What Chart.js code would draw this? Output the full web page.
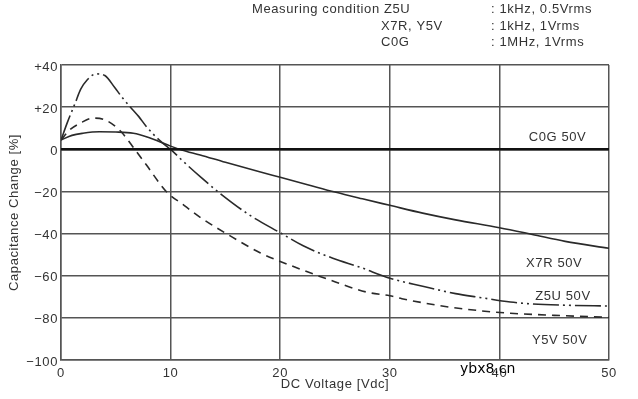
<!DOCTYPE html>
<html>
<head>
<meta charset="utf-8">
<script src="https://cdn.jsdelivr.net/npm/chart.js@4"></script>
<style>
  html, body { margin: 0; padding: 0; background: #fff; }
  #wrap { width: 638px; height: 399px; position: relative; }
</style>
</head>
<body>
<div id="wrap"><canvas id="c" width="638" height="399"></canvas></div>
<script>
// ---- Data ----
const xTickValues = [0, 10, 20, 30, 40, 50];
const yTickValues = [40, 20, 0, -20, -40, -60, -80, -100];

// C0G 50V (flat at 0%)
const c0gVoltage = [0, 50];
const c0gChange  = [0, 0];

// X7R 50V (solid)
const x7rVoltage = [0, 1, 2, 3.5, 5, 6.6, 8, 9, 10, 11, 12.7, 15, 18.2, 20, 22.5, 25, 27.5, 30, 33, 36, 40, 43, 46, 50];
const x7rChange  = [4.4, 6.6, 7.6, 8.3, 8.2, 7.6, 5.6, 3.6, 1.5, -0.3, -2.7, -6.2, -10.8, -13.3, -16.8, -20.3, -23.5, -26.6, -30.3, -33.5, -37.2, -40.4, -43.7, -47];

// Z5U 50V (dash-dot-dot)
const z5uVoltage = [0, 0.6, 1.3, 1.8, 2.4, 3.2, 4, 4.9, 5.6, 6.3, 7.1, 7.8, 9, 10.2, 11, 12.7, 14.5, 17.2, 20.1, 22.1, 24.8, 27.3, 30, 33, 36, 38.2, 41, 43, 46, 50];
const z5uChange  = [4.4, 13, 22, 28.5, 33, 35.8, 35, 29.3, 24.5, 20.2, 15.5, 10.7, 4.2, -1, -5, -13, -20.9, -31.2, -39.9, -45.8, -51.7, -56, -61.2, -65, -68.5, -70.3, -72.5, -73.4, -74, -74.4];

// Y5V 50V (dashed)
const y5vVoltage = [0, 0.8, 1.8, 2.9, 4, 5.4, 6.5, 7.8, 9.6, 11.2, 12.7, 15.4, 18.2, 20, 24.2, 27.9, 30, 31.1, 35.2, 38.2, 41, 45, 50];
const y5vChange  = [4.4, 9.2, 12.5, 14.8, 14, 8.8, 1.6, -7.5, -20, -26.5, -32.3, -41, -49.2, -53.2, -61.4, -67.8, -69.5, -70.9, -74.7, -76.6, -77.8, -78.8, -79.8];

// Series labels placed in data coordinates
const seriesLabels = ['C0G 50V', 'X7R 50V', 'Z5U 50V', 'Y5V 50V'];
const labelVoltage = [45.3, 45.0, 45.8, 45.5];
const labelChange  = [5.8, -54, -70, -90.5];

// Header text
const headerLeft  = ['Measuring condition Z5U', 'X7R, Y5V', 'C0G'];
const headerRight = [': 1kHz, 0.5Vrms', ': 1kHz, 1Vrms', ': 1MHz, 1Vrms'];
const watermark = 'ybx8.cn';

const toPoints = (xs, ys) => xs.map((x, i) => ({ x: x, y: ys[i] }));

const FONT = "'Liberation Sans', Arial, sans-serif";
const TXT = '#333';
const GRID = '#555';
const INK = '#2a2a2a';
const SPACING = '0.6px';

const overlay = {
  id: 'overlay',
  beforeDraw(chart) {
    chart.ctx.letterSpacing = SPACING;
  },
  afterDraw(chart) {
    const ctx = chart.ctx;
    const xs = chart.scales.x, ys = chart.scales.y;
    ctx.save();
    ctx.letterSpacing = SPACING;
    ctx.fillStyle = TXT;
    ctx.font = '13px ' + FONT;
    ctx.textBaseline = 'middle';
    // header
    ctx.textAlign = 'left';
    const rows = [9, 26, 42];
    ctx.fillText(headerLeft[0], 252, rows[0]);
    ctx.fillText(headerLeft[1], 381, rows[1]);
    ctx.fillText(headerLeft[2], 381, rows[2]);
    headerRight.forEach((t, i) => ctx.fillText(t, 491, rows[i]));
    // series labels
    ctx.textAlign = 'center';
    seriesLabels.forEach((t, i) => {
      ctx.fillText(t, xs.getPixelForValue(labelVoltage[i]), ys.getPixelForValue(labelChange[i]));
    });
    // watermark
    ctx.letterSpacing = '0px';
    ctx.fillStyle = '#000';
    ctx.font = '14px "DejaVu Sans", sans-serif';
    ctx.textAlign = 'left';
    ctx.fillText(watermark, 460, 369);
    ctx.restore();
  }
};

const common = { borderColor: INK, backgroundColor: INK, pointRadius: 0, fill: false, cubicInterpolationMode: 'monotone' };

new Chart(document.getElementById('c'), {
  type: 'line',
  data: {
    datasets: [
      Object.assign({}, common, { label: 'C0G 50V', data: toPoints(c0gVoltage, c0gChange), borderColor: '#111', borderWidth: 2.5 }),
      Object.assign({}, common, { label: 'X7R 50V', data: toPoints(x7rVoltage, x7rChange), borderWidth: 1.6 }),
      Object.assign({}, common, { label: 'Z5U 50V', data: toPoints(z5uVoltage, z5uChange), borderWidth: 1.6, borderDash: [26, 4, 2, 4, 2, 4] }),
      Object.assign({}, common, { label: 'Y5V 50V', data: toPoints(y5vVoltage, y5vChange), borderWidth: 1.6, borderDash: [8, 6] })
    ]
  },
  options: {
    responsive: false,
    animation: false,
    devicePixelRatio: 1,
    layout: { padding: { top: 65, right: 29, left: 0, bottom: 0 } },
    plugins: { legend: { display: false }, tooltip: { enabled: false } },
    scales: {
      x: {
        type: 'linear', min: 0, max: 50,
        afterFit(s) { s.height = 39; },
        afterBuildTicks(s) { s.ticks = xTickValues.map(v => ({ value: v })); },
        grid: { color: GRID, lineWidth: 1.5, drawTicks: false },
        border: { color: GRID, width: 1.5 },
        ticks: { color: TXT, font: { family: FONT, size: 13 }, padding: 6, maxRotation: 0 },
        title: { display: true, text: 'DC Voltage [Vdc]', color: TXT, font: { family: FONT, size: 13 }, padding: { top: 0, bottom: 7 } }
      },
      y: {
        type: 'linear', min: -100, max: 40,
        afterFit(s) { s.width = 61; },
        afterBuildTicks(s) { s.ticks = yTickValues.map(v => ({ value: v })); },
        grid: { color: GRID, lineWidth: 1.5, drawTicks: false },
        border: { color: GRID, width: 1.5 },
        ticks: {
          color: TXT, font: { family: FONT, size: 13 }, padding: 3, labelOffset: 2,
          callback: v => v > 0 ? '+' + v : (v < 0 ? '\u2212' + Math.abs(v) : '0')
        },
        title: { display: true, text: 'Capacitance Change [%]', color: TXT, font: { family: FONT, size: 13 }, padding: { top: 7, bottom: 0 } }
      }
    }
  },
  plugins: [overlay]
});
</script>
</body>
</html>
